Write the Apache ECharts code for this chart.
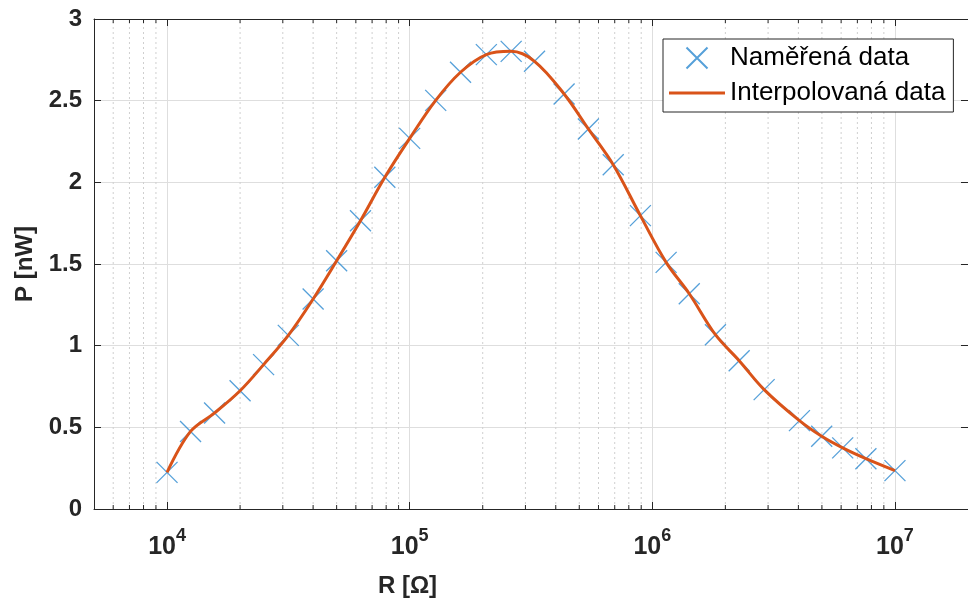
<!DOCTYPE html>
<html><head><meta charset="utf-8">
<script src="https://cdn.jsdelivr.net/npm/echarts@6/dist/echarts.min.js"></script>
<style>html,body{margin:0;padding:0;background:#fff}#c{width:968px;height:603px}</style>
</head><body><div id="c"></div>
<script>
// Measured data (R in ohms, P in nW)
const resistance = [10000, 12500, 15700, 20000, 25000, 31600, 40000, 50000, 62700, 79000,
  100000, 128000, 162000, 207000, 262000, 327000, 433000, 545000, 690000, 893000,
  1140000, 1420000, 1820000, 2280000, 2890000, 4040000, 4990000, 6090000, 7590000, 10000000];
const power = [0.224, 0.475, 0.588, 0.724, 0.884, 1.063, 1.286, 1.520, 1.765, 2.031,
  2.269, 2.502, 2.674, 2.782, 2.802, 2.741, 2.541, 2.327, 2.108, 1.796,
  1.510, 1.318, 1.067, 0.908, 0.731, 0.541, 0.445, 0.374, 0.308, 0.235];
const seriesNames = ['Naměřená data', 'Interpolovaná data'];
const minorTicks = [6000, 7000, 8000, 9000,
  20000, 30000, 40000, 50000, 60000, 70000, 80000, 90000,
  200000, 300000, 400000, 500000, 600000, 700000, 800000, 900000,
  2000000, 3000000, 4000000, 5000000, 6000000, 7000000, 8000000, 9000000];
const xName = 'R [Ω]';
const yName = 'P [nW]';

const FONT = '"Liberation Sans", Arial, Helvetica, sans-serif';
const AX = '#262626';
const pts = resistance.map((r, i) => [r, power[i]]);

const chart = echarts.init(document.getElementById('c'), null, {renderer: 'canvas'});
chart.setOption({
  animation: false,
  backgroundColor: '#fff',
  grid: {left: 94, right: -4, top: 19, bottom: 94, containLabel: false},
  xAxis: [{
    type: 'log', logBase: 10, min: 5000, max: 20000000,
    axisLine: {show: true, onZero: false, lineStyle: {color: AX, width: 1}},
    axisTick: {show: true, inside: true, length: 7, lineStyle: {color: AX}},
    splitLine: {show: true, lineStyle: {color: '#dedede', width: 1}},
    axisLabel: {
      showMinLabel: false, showMaxLabel: false, margin: 18,
      formatter: v => '{b|10}{s|' + Math.round(Math.log10(v)) + '}',
      rich: {
        b: {fontSize: 25, fontWeight: 'bold', fontFamily: FONT, color: AX, lineHeight: 40, verticalAlign: 'middle'},
        s: {fontSize: 18, fontWeight: 'bold', fontFamily: FONT, color: AX, verticalAlign: 'top'}
      }
    }
  }, {
    type: 'log', logBase: 10, min: 5000, max: 20000000, position: 'top',
    axisLine: {show: true, onZero: false, lineStyle: {color: AX, width: 1}},
    axisTick: {show: true, inside: true, length: 7, lineStyle: {color: AX}},
    splitLine: {show: false}, axisLabel: {show: false}
  }],
  yAxis: [{
    type: 'value', min: 0, max: 3, interval: 0.5,
    name: yName, nameLocation: 'middle', nameGap: 50, nameRotate: 90,
    nameTextStyle: {fontSize: 24, fontWeight: 'bold', fontFamily: FONT, color: AX},
    axisLine: {show: true, onZero: false, lineStyle: {color: AX, width: 1}},
    axisTick: {show: true, inside: true, length: 7, lineStyle: {color: AX}},
    splitLine: {show: true, lineStyle: {color: '#dedede', width: 1}},
    axisLabel: {fontSize: 24, fontWeight: 'bold', fontFamily: FONT, color: AX, margin: 12}
  }, {
    type: 'value', min: 0, max: 3, interval: 0.5, position: 'right',
    axisLine: {show: true, onZero: false, lineStyle: {color: AX, width: 1}},
    axisTick: {show: true, inside: true, length: 7, lineStyle: {color: AX}},
    splitLine: {show: false}, axisLabel: {show: false}
  }],
  legend: {
    data: [
      {name: seriesNames[0]},
      {name: seriesNames[1], icon: 'path://M0,0L56,0L56,3L0,3Z'}
    ],
    orient: 'vertical', left: 663, top: 39,
    padding: [6, 8, 6, 6], itemWidth: 56, itemHeight: 21, itemGap: 9,
    symbolKeepAspect: true,
    backgroundColor: '#fff', borderColor: AX, borderWidth: 1, borderRadius: 0,
    textStyle: {fontSize: 26, fontFamily: FONT, color: '#000'},
    selectedMode: false
  },
  graphic: [{
    type: 'text', x: 407.5, y: 586, silent: true,
    style: {text: xName, font: 'bold 24px ' + FONT, fill: AX, textAlign: 'center', textVerticalAlign: 'middle', verticalAlign: 'middle'}
  }],
  series: [{
    type: 'custom', name: 'minorGrid', silent: true, z: 0,
    data: minorTicks.map(v => [v, 0]),
    renderItem: (params, api) => {
      const v = api.value(0);
      const b = api.coord([v, 0]);
      const t = api.coord([v, 3]);
      return {type: 'group', children: [
        {type: 'line', shape: {x1: b[0], y1: b[1], x2: t[0], y2: t[1]},
          style: {stroke: '#cfcfcf', lineWidth: 1, lineDash: [2, 3]}},
        {type: 'line', shape: {x1: b[0], y1: b[1], x2: b[0], y2: b[1] - 4},
          style: {stroke: AX, lineWidth: 1}},
        {type: 'line', shape: {x1: t[0], y1: t[1], x2: t[0], y2: t[1] + 4},
          style: {stroke: AX, lineWidth: 1}}
      ]};
    }
  }, {
    type: 'scatter', name: seriesNames[0], data: pts,
    symbol: 'path://M0,0L10,10M10,0L0,10', symbolSize: 21, symbolKeepAspect: true,
    itemStyle: {color: 'rgba(0,0,0,0)', borderColor: '#2a88d0', borderWidth: 1.3},
    emphasis: {disabled: true}
  }, {
    type: 'line', name: seriesNames[1], data: pts,
    smooth: 0.35, showSymbol: false, symbol: 'none',
    lineStyle: {color: '#D95319', width: 3}, itemStyle: {color: '#D95319'},
    emphasis: {disabled: true}
  }]
});
</script>
</body></html>
